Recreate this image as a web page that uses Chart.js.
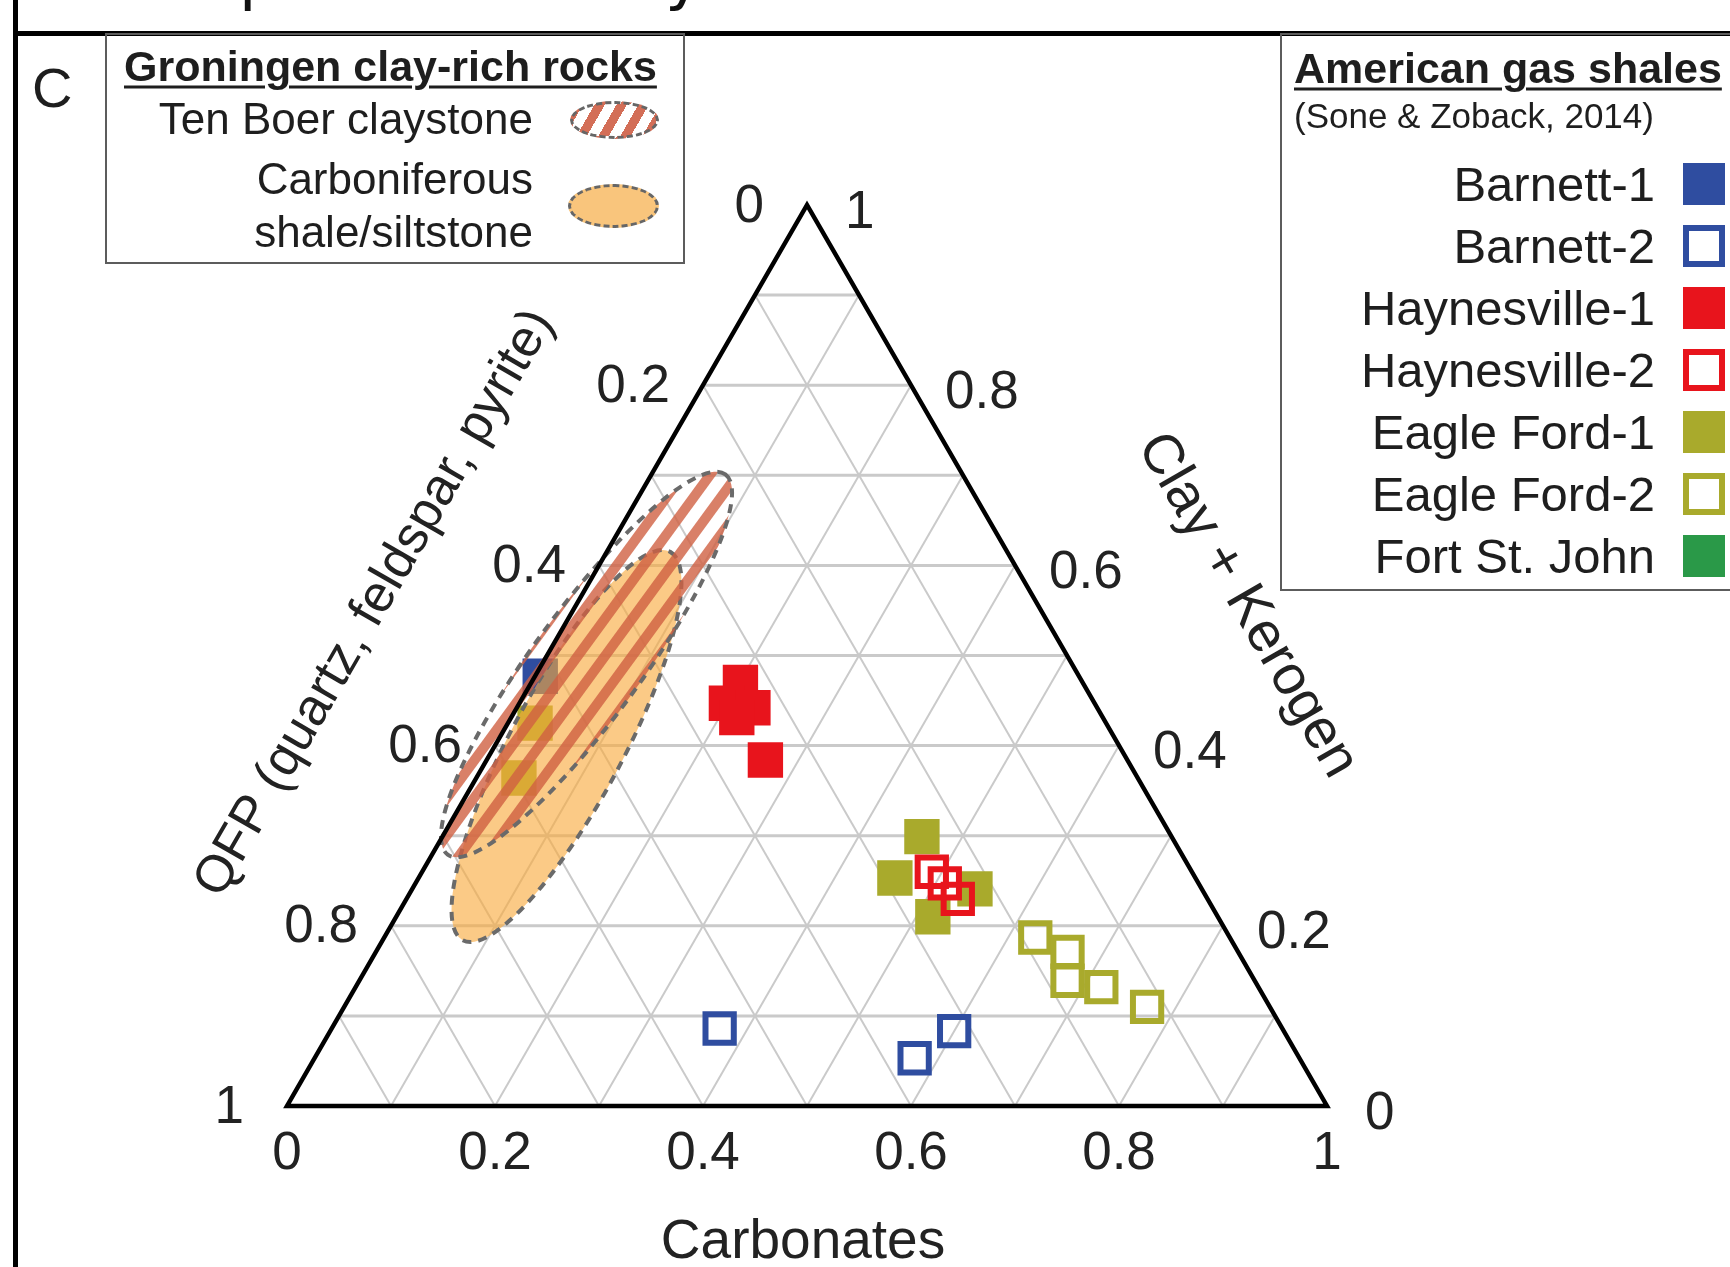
<!DOCTYPE html>
<html>
<head>
<meta charset="utf-8">
<script src="https://cdn.jsdelivr.net/npm/chart.js@4.4.1/dist/chart.umd.min.js"></script>
<style>
  html, body { margin: 0; padding: 0; background: #fff; }
  #page { position: relative; width: 1730px; height: 1267px; overflow: hidden; font-family: "Liberation Sans", Arial, sans-serif; color: #1e1e1e; }
  #chart { position: absolute; left: 0; top: 0; }
  .frame-left { position: absolute; left: 13px; top: 0; width: 5px; height: 1267px; background: #000; }
  .frame-top { position: absolute; left: 13px; top: 31px; width: 1717px; height: 5px; background: #000; }
  .cut { position: absolute; left: 0; top: 0; width: 1730px; height: 31px; overflow: hidden; }
  .cut span { position: absolute; top: -56px; font: 64px "DejaVu Sans"; line-height: 64px; color: #111; }
  .box { position: absolute; border: 2.5px solid #5c5c5c; box-sizing: border-box; }
  .txt { position: absolute; white-space: nowrap; line-height: 1; transform: translateY(-50%); }
  .head { font-weight: bold; font-size: 43px; text-decoration: underline; text-decoration-thickness: 3px; text-underline-offset: 5px; }
  .sw { position: absolute; box-sizing: border-box; }
</style>
</head>
<body>
<div id="page">
  <canvas id="chart" width="1730" height="1267"></canvas>
  <div class="cut"><span style="left:239px">p</span><span style="left:665px">y</span></div>
  <div class="frame-left"></div>
  <div class="frame-top"></div>

  <div class="box" style="left:105px; top:33px; width:580px; height:231px;"></div>
  <div class="txt" style="left:32px; top:88px; font-size:56px;">C</div>
  <div class="txt head" style="left:124px; top:66px;">Groningen clay-rich rocks</div>
  <div class="txt" style="right:1197px; top:119px; font-size:44px;">Ten Boer claystone</div>
  <div class="txt" style="right:1197px; top:179px; font-size:44px;">Carboniferous</div>
  <div class="txt" style="right:1197px; top:232px; font-size:44px;">shale/siltstone</div>
  <div class="sw" style="left:570px; top:101px; width:89px; height:38px; border-radius:50%; border:3px dashed #666;
       background: repeating-linear-gradient(120deg, #d36e57 0 9px, #fff 9px 19px);"></div>
  <div class="sw" style="left:568px; top:184px; width:91px; height:44px; border-radius:50%; border:3px dashed #666; background:#f9c57c;"></div>

  <div class="box" style="left:1280px; top:33px; width:470px; height:558px;"></div>
  <div class="txt head" style="left:1294px; top:68px;">American gas shales</div>
  <div class="txt" style="left:1294px; top:115px; font-size:35px;">(Sone &amp; Zoback, 2014)</div>
  <div id="amLegend"></div>
</div>

<script>
const SQ3 = Math.sqrt(3) / 2;

// ternary points: [carbonates, clay + kerogen], QFP = 1 - both
const barnett1 = [[0.005, 0.477]];
const barnett2 = [[0.373, 0.086], [0.577, 0.053], [0.600, 0.083]];
const haynesville1 = [[0.201, 0.470], [0.199, 0.447], [0.227, 0.442], [0.217, 0.431], [0.268, 0.384]];
const haynesville2 = [[0.490, 0.260], [0.509, 0.247], [0.530, 0.230]];
const eagleFord1 = [[0.026, 0.425], [0.041, 0.364], [0.461, 0.299], [0.458, 0.253], [0.516, 0.210], [0.541, 0.241]];
const eagleFord2 = [[0.626, 0.187], [0.665, 0.171], [0.681, 0.139], [0.717, 0.132], [0.772, 0.110]];
const fortStJohn = [];

const seriesNames = ["Barnett-1", "Barnett-2", "Haynesville-1", "Haynesville-2", "Eagle Ford-1", "Eagle Ford-2", "Fort St. John"];
const seriesData = [barnett1, barnett2, haynesville1, haynesville2, eagleFord1, eagleFord2, fortStJohn];

const tickValues = [0, 0.2, 0.4, 0.6, 0.8, 1];
const tickLabels = ["0", "0.2", "0.4", "0.6", "0.8", "1"];

// Groningen fields: both ends of the long axis [carbonates, clay] and width as a fraction of a side
const tenBoerAxis = [[0.015, 0.279], [0.071, 0.701]];
const tenBoerWidth = 0.104;
const carboniferousAxis = [[0.077, 0.184], [0.061, 0.615]];
const carboniferousWidth = 0.108;

const seriesStyle = {
  "Barnett-1": { color: "#2f4da0", filled: true },
  "Barnett-2": { color: "#2f4da0", filled: false },
  "Haynesville-1": { color: "#e8141c", filled: true },
  "Haynesville-2": { color: "#e8141c", filled: false },
  "Eagle Ford-1": { color: "#a9aa2c", filled: true },
  "Eagle Ford-2": { color: "#a9aa2c", filled: false },
  "Fort St. John": { color: "#2a9948", filled: true }
};

const toXY = ([b, c]) => ({ x: b + c / 2, y: c * SQ3 });

function pixel(chart, pt) {
  const p = toXY(pt);
  return { x: chart.scales.x.getPixelForValue(p.x), y: chart.scales.y.getPixelForValue(p.y) };
}

function seg(ctx, a, b) {
  ctx.beginPath();
  ctx.moveTo(a.x, a.y);
  ctx.lineTo(b.x, b.y);
  ctx.stroke();
}

function fieldPath(chart, axis, width) {
  const { ctx } = chart;
  const p1 = pixel(chart, axis[0]), p2 = pixel(chart, axis[1]);
  const side = chart.scales.x.getPixelForValue(1) - chart.scales.x.getPixelForValue(0);
  const geo = {
    cx: (p1.x + p2.x) / 2, cy: (p1.y + p2.y) / 2,
    a: Math.hypot(p2.x - p1.x, p2.y - p1.y) / 2,
    b: width * side / 2,
    ang: Math.atan2(p2.y - p1.y, p2.x - p1.x)
  };
  ctx.beginPath();
  ctx.ellipse(geo.cx, geo.cy, geo.a, geo.b, geo.ang, 0, Math.PI * 2);
  return geo;
}

function dashedEdge(ctx) {
  ctx.save();
  ctx.setLineDash([9, 7]);
  ctx.lineWidth = 4;
  ctx.strokeStyle = "#6a6a6a";
  ctx.stroke();
  ctx.restore();
}

const ternaryPlugin = {
  id: "ternary",
  beforeDatasetsDraw(chart) {
    const ctx = chart.ctx;
    const P = pt => pixel(chart, pt);
    ctx.save();
    ctx.strokeStyle = "#cacaca";
    for (let k = 1; k < 10; k++) {
      const t = k / 10;
      ctx.lineWidth = 3;
      seg(ctx, P([0, t]), P([1 - t, t]));
      ctx.lineWidth = 2;
      seg(ctx, P([t, 0]), P([t, 1 - t]));
      seg(ctx, P([1 - t, 0]), P([0, 1 - t]));
    }
    ctx.restore();
  },
  afterDatasetsDraw(chart) {
    const ctx = chart.ctx;
    const P = pt => pixel(chart, pt);

    // Carboniferous shale/siltstone
    ctx.save();
    fieldPath(chart, carboniferousAxis, carboniferousWidth);
    ctx.fillStyle = "rgba(248,170,60,0.62)";
    ctx.fill();
    dashedEdge(ctx);
    ctx.restore();

    // Ten Boer claystone, hatched
    ctx.save();
    const g = fieldPath(chart, tenBoerAxis, tenBoerWidth);
    ctx.save();
    ctx.clip();
    ctx.translate(g.cx, g.cy);
    ctx.rotate(g.ang);
    ctx.fillStyle = "rgba(208,96,66,0.8)";
    for (let off = -g.b - 2; off <= g.b + 4; off += 22) {
      ctx.fillRect(-g.a - 5, off - 5, 2 * g.a + 10, 10);
    }
    ctx.restore();
    fieldPath(chart, tenBoerAxis, tenBoerWidth);
    dashedEdge(ctx);
    ctx.restore();

    // triangle
    ctx.save();
    ctx.strokeStyle = "#000";
    ctx.lineWidth = 4.5;
    const A = P([0, 0]), B = P([1, 0]), C = P([0, 1]);
    ctx.beginPath();
    ctx.moveTo(A.x, A.y); ctx.lineTo(B.x, B.y); ctx.lineTo(C.x, C.y); ctx.closePath();
    ctx.stroke();

    // tick labels
    ctx.fillStyle = "#222";
    ctx.font = '53px "Liberation Sans", Arial, sans-serif';
    ctx.textBaseline = "middle";
    tickValues.forEach((v, i) => {
      const lab = tickLabels[i];
      const single = lab.length === 1;
      const pb = P([v, 0]);
      ctx.textAlign = "center";
      ctx.fillText(lab, pb.x, pb.y + 48);
      const pl = P([0, 1 - v]);
      ctx.textAlign = "right";
      ctx.fillText(lab, pl.x - (single ? 43 : 33), pl.y + 2);
      const pr = P([1 - v, v]);
      ctx.textAlign = "left";
      ctx.fillText(lab, pr.x + (single ? 38 : 34), pr.y + 8);
    });

    // axis titles
    ctx.textAlign = "center";
    ctx.font = '55px "Liberation Sans", Arial, sans-serif';
    const bm = P([0.5, 0]);
    ctx.fillText("Carbonates", bm.x - 4, bm.y + 137);
    ctx.font = '52px "Liberation Sans", Arial, sans-serif';
    const lm = P([0, 0.5]);
    ctx.save();
    ctx.translate(lm.x - 172, lm.y - 52);
    ctx.rotate(-Math.PI / 3);
    ctx.fillText("QFP (quartz, feldspar, pyrite)", 0, 0);
    ctx.restore();
    ctx.font = '56px "Liberation Sans", Arial, sans-serif';
    const rm = P([0.5, 0.5]);
    ctx.save();
    ctx.translate(rm.x + 180, rm.y - 50);
    ctx.rotate(Math.PI / 3);
    ctx.fillText("Clay + Kerogen", 0, 0);
    ctx.restore();
    ctx.restore();
  }
};

const datasets = seriesNames.map((name, i) => {
  const st = seriesStyle[name];
  return {
    label: name,
    data: seriesData[i].map(toXY),
    pointStyle: "rect",
    pointRadius: st.filled ? 25 : 20,
    pointHoverRadius: st.filled ? 25 : 20,
    backgroundColor: st.filled ? st.color : "rgba(255,255,255,0)",
    borderColor: st.color,
    borderWidth: st.filled ? 0 : 6,
    showLine: false,
    clip: false
  };
});

new Chart(document.getElementById("chart"), {
  type: "scatter",
  data: { datasets: datasets },
  options: {
    responsive: false,
    animation: false,
    devicePixelRatio: 1,
    layout: { padding: { left: 287, right: 403, top: 205, bottom: 161 } },
    scales: {
      x: { type: "linear", min: 0, max: 1, display: false },
      y: { type: "linear", min: 0, max: SQ3, display: false }
    },
    plugins: { legend: { display: false }, tooltip: { enabled: false } }
  },
  plugins: [ternaryPlugin]
});

// American gas shales legend
const amLegend = document.getElementById("amLegend");
seriesNames.forEach((name, i) => {
  const st = seriesStyle[name];
  const y = 184 + i * 62;
  const t = document.createElement("div");
  t.className = "txt";
  t.style.cssText = `right:${1730 - 1655}px; top:${y}px; font-size:49px;`;
  t.textContent = name;
  amLegend.appendChild(t);
  const sw = document.createElement("div");
  sw.className = "sw";
  sw.style.cssText = `left:1683px; top:${y - 21}px; width:42px; height:42px;` +
    (st.filled ? `background:${st.color};` : `border:6px solid ${st.color}; background:#fff;`);
  amLegend.appendChild(sw);
});
</script>
</body>
</html>
